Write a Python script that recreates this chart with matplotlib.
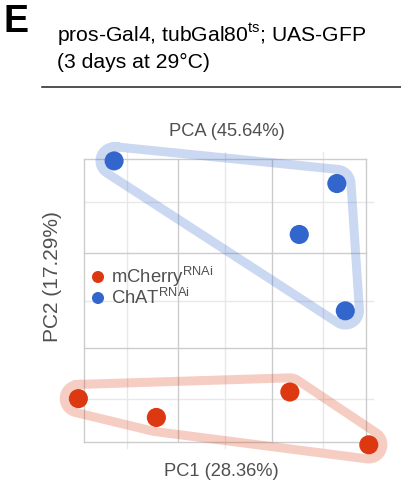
import numpy as np
import matplotlib
matplotlib.use("Agg")
import matplotlib.pyplot as plt
from matplotlib.transforms import blended_transform_factory

# PCA scores (PC1, PC2) per sample
mcherry_pc1 = [-0.06, 0.77, 2.19, 3.03]
mcherry_pc2 = [0.46, 0.26, 0.53, -0.03]
chat_pc1 = [0.32, 2.69, 2.29, 2.78]
chat_pc2 = [2.98, 2.74, 2.20, 1.39]

group_labels = [r"mCherry$^{\mathregular{RNAi}}$", r"ChAT$^{\mathregular{RNAi}}$"]
group_colors = ["#DC3912", "#3366CC"]

x_major = [0, 1, 2, 3]
y_major = [0, 1, 2, 3]
x_minor = [0.46, 1.5, 2.54]
y_minor = [0.46, 1.5, 2.54]

title_text = "PCA (45.64%)"
xlabel_text = "PC1 (28.36%)"
ylabel_text = "PC2 (17.29%)"

plt.rcParams["font.family"] = ["Liberation Sans", "DejaVu Sans"]

fig = plt.figure(figsize=(4.01, 4.86), dpi=100)
ax = fig.add_axes([84 / 401, 44 / 486, 282 / 401, 283 / 486])
ax.set_xlim(x_major[0], x_major[-1])
ax.set_ylim(y_major[0], y_major[-1])
ax.set_xticks([])
ax.set_yticks([])
for s in ax.spines.values():
    s.set_visible(False)

major_c = "#cccccc"
minor_c = "#e8e8e8"
tx = blended_transform_factory(ax.transData, ax.transAxes)
ty = blended_transform_factory(ax.transAxes, ax.transData)
for v in x_minor:
    ax.plot([v, v], [-0.02, 1.025], transform=tx, color=minor_c, lw=1, clip_on=False, zorder=0)
for v in y_minor:
    ax.plot([0, 1.025], [v, v], transform=ty, color=minor_c, lw=1, clip_on=False, zorder=0)
for v in x_major:
    ax.plot([v, v], [0, 1], transform=tx, color=major_c, lw=1, clip_on=False, zorder=0.5)
for v in y_major:
    ax.plot([0, 1], [v, v], transform=ty, color=major_c, lw=1, clip_on=False, zorder=0.5)


def convex_hull(pts):
    pts = sorted(map(tuple, pts))

    def cross(o, a, b):
        return (a[0] - o[0]) * (b[1] - o[1]) - (a[1] - o[1]) * (b[0] - o[0])

    lower, upper = [], []
    for p in pts:
        while len(lower) >= 2 and cross(lower[-2], lower[-1], p) <= 0:
            lower.pop()
        lower.append(p)
    for p in reversed(pts):
        while len(upper) >= 2 and cross(upper[-2], upper[-1], p) <= 0:
            upper.pop()
        upper.append(p)
    return np.array(lower[:-1] + upper[:-1])


def rounded_hull(xs, ys, r):
    hull = convex_hull(np.column_stack([xs, ys]))
    n = len(hull)
    out = []
    for i in range(n):
        p_prev, p, p_next = hull[i - 1], hull[i], hull[(i + 1) % n]
        e1 = p - p_prev
        e2 = p_next - p
        a1 = np.arctan2(e1[1], e1[0]) - np.pi / 2
        a2 = np.arctan2(e2[1], e2[0]) - np.pi / 2
        while a2 < a1:
            a2 += 2 * np.pi
        for a in np.linspace(a1, a2, 20):
            out.append(p + r * np.array([np.cos(a), np.sin(a)]))
    out.append(out[0])
    return np.array(out)


for xs, ys, c in [(mcherry_pc1, mcherry_pc2, group_colors[0]), (chat_pc1, chat_pc2, group_colors[1])]:
    poly = rounded_hull(np.array(xs), np.array(ys), 0.15)
    ax.plot(poly[:, 0], poly[:, 1], color=c, alpha=0.25, lw=6.5, solid_joinstyle="round",
            clip_on=False, zorder=1)
    ax.scatter(xs, ys, s=190, color=c, edgecolors="none", clip_on=False, zorder=3)

text_c = "#505050"
fig.text(227 / 401, 1 - 131 / 486, title_text, ha="center", va="center",
         fontsize=13.2, color=text_c)
fig.text(221 / 401, 1 - 471 / 486, xlabel_text, ha="center", va="center",
         fontsize=13.2, color=text_c)
fig.text(53 / 401, 1 - 277 / 486, ylabel_text, ha="center", va="center", rotation=90,
         fontsize=15, color=text_c)

# legend
for i, (lab, c) in enumerate(zip(group_labels, group_colors)):
    yy = 1 - (277 + 21 * i) / 486
    ax.scatter([98 / 401], [yy], s=75, color=c, edgecolors="none", transform=fig.transFigure,
               clip_on=False, zorder=4)
    fig.text(111 / 401, yy, lab, ha="left", va="center", fontsize=13.3, color=text_c)

# panel heading
fig.text(3 / 401, 1 - 22 / 486, "E", ha="left", va="center", fontsize=27, fontweight="bold",
         color="black")
fig.text(57 / 401, 1 - 42 / 486, r"pros-Gal4, tubGal80$^{\mathregular{ts}}$; UAS-GFP",
         ha="left", va="baseline", fontsize=15.2, color="black")
fig.text(57 / 401, 1 - 68 / 486, "(3 days at 29°C)", ha="left", va="baseline",
         fontsize=15.2, color="black")
fig.add_artist(plt.Line2D([42 / 401, 1], [1 - 87 / 486] * 2, transform=fig.transFigure,
                          color="#222222", lw=1.1))

fig.savefig("out.png", dpi=100)
